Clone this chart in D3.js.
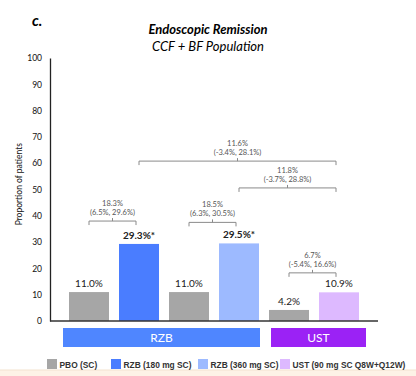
<!DOCTYPE html>
<html>
<head>
<meta charset="utf-8">
<script src="https://cdn.jsdelivr.net/npm/d3@7"></script>
<style>
  body { margin: 0; background: #fff; }
  svg { display: block; }
</style>
</head>
<body>
<div id="chart"></div>
<script>
// chart size
var width = 416;
var height = 376;

// data
var groups = ["PBO (SC)", "RZB (180 mg SC)", "PBO (SC) ", "RZB (360 mg SC)", "PBO (SC)  ", "UST (90 mg SC Q8W+Q12W)"];
var values = [11.0, 29.3, 11.0, 29.5, 4.2, 10.9];
var valueLabels = ["11.0%", "29.3%*", "11.0%", "29.5%*", "4.2%", "10.9%"];
var boldLabel = [false, true, false, true, false, false];
var colors = ["#a6a6a6", "#4a7dff", "#a6a6a6", "#9dbaff", "#a6a6a6", "#ddb9ff"];
var yTicks = [0, 10, 20, 30, 40, 50, 60, 70, 80, 90, 100];

// comparisons: from bar, to bar, level (in y units), difference, CI
var compFrom = [0, 2, 4, 3, 1];
var compTo = [1, 3, 5, 5, 5];
var compLevel = [38, 37.5, 18.3, 50.6, 60.8];
var compDiff = ["18.3%", "18.5%", "6.7%", "11.8%", "11.6%"];
var compCI = ["(6.5%, 29.6%)", "(6.3%, 30.5%)", "(-5.4%, 16.6%)", "(-3.7%, 28.8%)", "(-3.4%, 28.1%)"];

// drug group boxes
var boxNames = ["RZB", "UST"];
var boxFirst = [0, 4];
var boxLast = [3, 5];
var boxColors = ["#4f86ff", "#9b22f5"];

// legend
var legendNames = ["PBO (SC)", "RZB (180 mg SC)", "RZB (360 mg SC)", "UST (90 mg SC Q8W+Q12W)"];
var legendColors = ["#a6a6a6", "#4a7dff", "#9dbaff", "#ddb9ff"];

var svg = d3.select("#chart")
  .append("svg")
  .attr("width", width)
  .attr("height", height);

var font = "Lato, 'Open Sans', sans-serif";

// bottom strip
svg.append("rect")
  .attr("x", 0).attr("y", 370)
  .attr("width", width).attr("height", 6)
  .attr("fill", "#fdf2e6");
svg.append("line")
  .attr("x1", 0).attr("x2", width)
  .attr("y1", 370).attr("y2", 370)
  .attr("stroke", "#f3e2cf");

// scales
var x = d3.scaleBand()
  .domain(d3.range(groups.length))
  .range([64, 364])
  .paddingInner(0.2)
  .paddingOuter(0.1);

var y = d3.scaleLinear()
  .domain([0, 100])
  .range([321, 58]);

// title
svg.append("text")
  .text("c.")
  .attr("x", 32).attr("y", 26)
  .attr("font-family", font)
  .attr("font-size", 15)
  .attr("font-weight", "bold")
  .attr("font-style", "italic");

svg.append("text")
  .text("Endoscopic Remission")
  .attr("x", 208).attr("y", 34)
  .attr("text-anchor", "middle")
  .attr("font-family", font)
  .attr("font-size", 13)
  .attr("font-weight", "bold")
  .attr("font-style", "italic");

svg.append("text")
  .text("CCF + BF Population")
  .attr("x", 208).attr("y", 51)
  .attr("text-anchor", "middle")
  .attr("font-family", font)
  .attr("font-size", 13)
  .attr("font-style", "italic");

// y axis
var yAxis = svg.append("g")
  .attr("transform", "translate(50,0)")
  .call(d3.axisLeft(y).tickValues(yTicks).tickSize(0).tickPadding(8));
yAxis.select(".domain").attr("stroke", "#222").attr("stroke-width", 1.3);
yAxis.selectAll("text")
  .attr("font-family", font)
  .attr("font-size", 8.5)
  .attr("fill", "#111");

svg.append("text")
  .text("Proportion of patients")
  .attr("transform", "translate(22," + y(52) + ") rotate(-90)")
  .attr("text-anchor", "middle")
  .attr("font-family", font)
  .attr("font-size", 8.5)
  .attr("fill", "#111");

// bars
svg.selectAll("rect.bar")
  .data(values)
  .enter()
  .append("rect")
  .attr("class", "bar")
  .attr("x", function(d, i) { return x(i); })
  .attr("y", function(d) { return y(d); })
  .attr("width", x.bandwidth())
  .attr("height", function(d) { return y(0) - y(d); })
  .attr("fill", function(d, i) { return colors[i]; });

// baseline
svg.append("line")
  .attr("x1", 50).attr("x2", 378)
  .attr("y1", y(0)).attr("y2", y(0))
  .attr("stroke", "#333")
  .attr("stroke-width", 1.5);

// value labels
svg.selectAll("text.val")
  .data(values)
  .enter()
  .append("text")
  .attr("class", "val")
  .text(function(d, i) { return valueLabels[i]; })
  .attr("x", function(d, i) { return x(i) + x.bandwidth() / 2; })
  .attr("y", function(d) { return y(d) - 5; })
  .attr("text-anchor", "middle")
  .attr("font-family", font)
  .attr("font-size", 10)
  .attr("font-weight", function(d, i) { return boldLabel[i] ? "bold" : "normal"; })
  .attr("fill", "#222");

// comparison brackets
var cx = function(i) { return x(i) + x.bandwidth() / 2; };
compFrom.forEach(function(a, k) {
  var b = compTo[k];
  var x1 = cx(a), x2 = cx(b) - 3;
  var yy = y(compLevel[k]);
  var mid = (x1 + x2) / 2;
  var g = svg.append("g");
  g.append("path")
    .attr("d", "M" + x1 + "," + (yy + 4) + "V" + yy + "H" + x2 + "V" + (yy + 4) +
               "M" + mid + "," + yy + "V" + (yy - 3))
    .attr("fill", "none")
    .attr("stroke", "#8a8a8a")
    .attr("stroke-width", 1);
  g.append("text")
    .text(compDiff[k])
    .attr("x", mid).attr("y", yy - 15)
    .attr("text-anchor", "middle")
    .attr("font-family", font)
    .attr("font-size", 7.5)
    .attr("fill", "#555");
  g.append("text")
    .text(compCI[k])
    .attr("x", mid).attr("y", yy - 6)
    .attr("text-anchor", "middle")
    .attr("font-family", font)
    .attr("font-size", 7.5)
    .attr("fill", "#555");
});

// group boxes (left / right overhang past the bars)
var boxPadL = [6, -2];
var boxPadR = [1, 7];
boxNames.forEach(function(name, k) {
  var x0 = x(boxFirst[k]) - boxPadL[k];
  var x1 = x(boxLast[k]) + x.bandwidth() + boxPadR[k];
  svg.append("rect")
    .attr("x", x0).attr("y", 328)
    .attr("width", x1 - x0).attr("height", 19)
    .attr("fill", boxColors[k]);
  svg.append("text")
    .text(name)
    .attr("x", (x0 + x1) / 2).attr("y", 342)
    .attr("text-anchor", "middle")
    .attr("font-family", font)
    .attr("font-size", 12)
    .attr("fill", "#fff");
});

// legend
var legendX = [47, 111, 198, 280];
var legend = svg.selectAll("g.legend")
  .data(legendNames)
  .enter()
  .append("g")
  .attr("class", "legend")
  .attr("transform", function(d, i) { return "translate(" + legendX[i] + ",359)"; });
legend.append("rect")
  .attr("width", 10).attr("height", 10)
  .attr("fill", function(d, i) { return legendColors[i]; });
legend.append("text")
  .text(function(d) { return d; })
  .attr("x", 12.5).attr("y", 8.5)
  .attr("font-family", "'Liberation Sans', Arial, sans-serif")
  .attr("font-size", 8.4)
  .attr("font-weight", "bold")
  .attr("fill", "#333");
</script>
</body>
</html>
